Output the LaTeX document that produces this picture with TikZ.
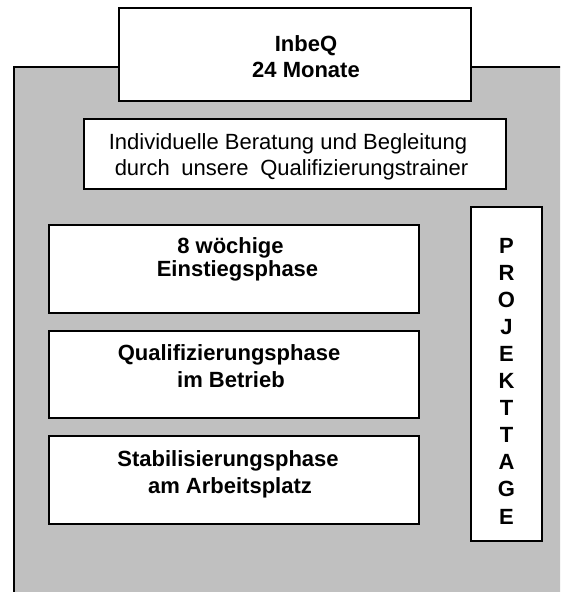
\documentclass[tikz,border=0pt]{standalone}
\usepackage{fontspec}
\setmainfont{Liberation Sans}
\definecolor{panelgray}{RGB}{192,192,192}
\tikzset{
  whitebox/.style={draw=black, line width=1.2pt, fill=white, rectangle, inner sep=0pt},
  bodytext/.style={anchor=base, inner sep=0pt, font=\fontsize{22}{26}\selectfont},
  boldtext/.style={anchor=base, inner sep=0pt, font=\fontsize{22}{26}\selectfont\bfseries}
}
\begin{document}
\begin{tikzpicture}[x=1pt, y=-1pt]
\useasboundingbox (0,0) rectangle (560,592);
\begin{scope}
  \clip (0,0) rectangle (560,592);
  \draw[line width=1.2pt, fill=panelgray] (14,67) rectangle (590,620);
\end{scope}
% top box
\node[whitebox, minimum width=352pt, minimum height=93pt] (top) at (295,54.5) {};
\node[boldtext] (topA) at (306,51.5) {InbeQ};
\node[boldtext] (topB) at (306,77.5) {24 Monate};
% Beratung
\node[whitebox, minimum width=422pt, minimum height=70pt] (ber) at (295,154) {};
\node[bodytext] (berA) at (288,149) {Individuelle Beratung und Begleitung};
\node[bodytext] (berB) at (291.5,175) {durch\hspace{0.53em}unsere\hspace{0.53em}Qualifizierungstrainer};
% phase boxes
\node[whitebox, minimum width=370pt, minimum height=88pt] (p1) at (234,269) {};
\node[boldtext] (p1A) at (230.5,253) {8 wöchige};
\node[boldtext] (p1B) at (237.5,276) {Einstiegsphase};
\node[whitebox, minimum width=370pt, minimum height=87pt] (p2) at (234,374.5) {};
\node[boldtext] (p2A) at (229,360) {Qualifizierungsphase};
\node[boldtext] (p2B) at (231,387) {im Betrieb};
\node[whitebox, minimum width=370pt, minimum height=88pt] (p3) at (234,480) {};
\node[boldtext] (p3A) at (228,466) {Stabilisierungsphase};
\node[boldtext] (p3B) at (230,493) {am Arbeitsplatz};
% Projekttage
\node[whitebox, minimum width=71pt, minimum height=334pt] (proj) at (506.5,374) {};
\foreach \ch [count=\i] in {P,R,O,J,E,K,T,T,A,G,E} {
  \node[boldtext] (pl\i) at (506.5,{253+27.1*(\i-1)}) {\ch};
}
\end{tikzpicture}
\end{document}
